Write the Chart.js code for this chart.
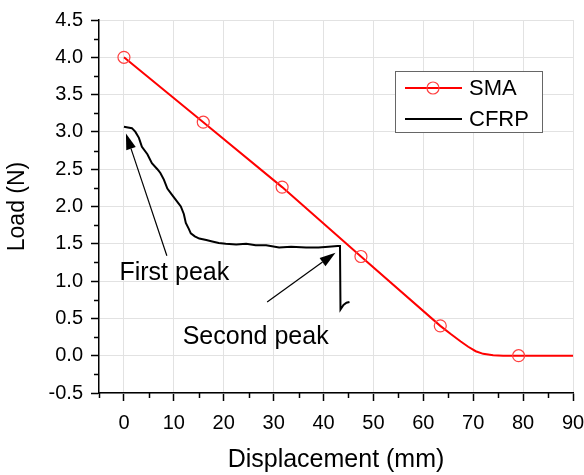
<!DOCTYPE html>
<html><head><meta charset="utf-8">
<script src="https://cdn.jsdelivr.net/npm/chart.js@4.4.1/dist/chart.umd.min.js"></script>
<style>html,body{margin:0;padding:0;background:#fff}#wrap{width:584px;height:475px}</style>
</head><body><div id="wrap"><canvas id="c" width="584" height="475"></canvas></div>
<script>
// ---- data ----
const smaX = [0, 15.9, 31.7, 47.5, 63.4, 65.5, 67.5, 69, 70.5, 72, 74, 76, 79.1, 90];
const smaY = [4.0, 3.13, 2.26, 1.33, 0.40, 0.29, 0.19, 0.12, 0.06, 0.025, 0.005, 0.0, 0.0, 0.0];
const smaMarkerX = [0, 15.9, 31.7, 47.5, 63.4, 79.1];

const cfrpX = [0, 0.8, 1.6, 2.3, 3.0, 3.6, 4.7, 5.6, 6.7, 7.3, 8.0, 8.7, 9.6, 10.4, 11.4, 12.0, 12.4, 13.0, 13.4, 14.2, 15.1, 16.5, 17.7, 19.0, 20.4, 22.5, 24.5, 26.4, 28.5, 31.1, 33.5, 36.5, 39.0, 41.0, 42.8, 43.3, 43.4, 44.0, 44.6, 45.2];
const cfrpY = [3.07, 3.06, 3.05, 3.00, 2.92, 2.80, 2.70, 2.58, 2.50, 2.45, 2.36, 2.24, 2.16, 2.09, 2.00, 1.90, 1.78, 1.70, 1.64, 1.60, 1.57, 1.55, 1.53, 1.51, 1.50, 1.49, 1.50, 1.48, 1.48, 1.45, 1.46, 1.45, 1.45, 1.46, 1.47, 1.47, 0.62, 0.68, 0.71, 0.72];

const xTicks = [0, 10, 20, 30, 40, 50, 60, 70, 80, 90];
const xMinorTicks = [-5, 5, 15, 25, 35, 45, 55, 65, 75, 85];
const yTicks = [-0.5, 0.0, 0.5, 1.0, 1.5, 2.0, 2.5, 3.0, 3.5, 4.0, 4.5];
const yMinorTicks = [-0.25, 0.25, 0.75, 1.25, 1.75, 2.25, 2.75, 3.25, 3.75, 4.25];

const seriesNames = ['SMA', 'CFRP'];
const xTitle = 'Displacement (mm)';
const yTitle = 'Load (N)';

// annotation texts and arrows, in data coordinates
const notes = [
  {text: 'First peak', tx: 10.1, ty: 1.11, fromX: 8.6, fromY: 1.34, toX: 0.4, toY: 2.98},
  {text: 'Second peak', tx: 26.4, ty: 0.25, fromX: 28.7, fromY: 0.72, toX: 42.4, toY: 1.38}
];

const FONT = '"Liberation Sans", Arial, sans-serif';

const minorTicksPlugin = {
  id: 'minorTicks',
  afterDraw(chart) {
    const ctx = chart.ctx, xs = chart.scales.x, ys = chart.scales.y, a = chart.chartArea;
    ctx.save();
    ctx.strokeStyle = '#000'; ctx.lineWidth = 1.5;
    ctx.beginPath();
    xMinorTicks.forEach(v => { const p = Math.round(xs.getPixelForValue(v)) + 0.5; ctx.moveTo(p, a.bottom); ctx.lineTo(p, a.bottom + 5); });
    yMinorTicks.forEach(v => { const p = Math.round(ys.getPixelForValue(v)) + 0.5; ctx.moveTo(a.left, p); ctx.lineTo(a.left - 5, p); });
    ctx.stroke();
    ctx.restore();
  }
};

const notesPlugin = {
  id: 'notes',
  afterDatasetsDraw(chart) {
    const ctx = chart.ctx, xs = chart.scales.x, ys = chart.scales.y;
    ctx.save();
    notes.forEach(n => {
      const x1 = xs.getPixelForValue(n.fromX), y1 = ys.getPixelForValue(n.fromY);
      const x2 = xs.getPixelForValue(n.toX), y2 = ys.getPixelForValue(n.toY);
      const ang = Math.atan2(y2 - y1, x2 - x1);
      const L = 16, W = 5;
      const bx = x2 - L * Math.cos(ang), by = y2 - L * Math.sin(ang);
      ctx.strokeStyle = '#000'; ctx.lineWidth = 1.2;
      ctx.beginPath(); ctx.moveTo(x1, y1); ctx.lineTo(bx, by); ctx.stroke();
      ctx.fillStyle = '#000';
      ctx.beginPath();
      ctx.moveTo(x2, y2);
      ctx.lineTo(bx + W * Math.sin(ang), by - W * Math.cos(ang));
      ctx.lineTo(bx - W * Math.sin(ang), by + W * Math.cos(ang));
      ctx.closePath(); ctx.fill();
      ctx.font = '25px ' + FONT;
      ctx.textAlign = 'center'; ctx.textBaseline = 'middle';
      ctx.fillText(n.text, xs.getPixelForValue(n.tx), ys.getPixelForValue(n.ty));
    });
    ctx.restore();
  }
};

const legendPlugin = {
  id: 'boxLegend',
  afterDraw(chart) {
    const ctx = chart.ctx;
    const bx = 395.5, by = 71.5, bw = 147, bh = 61;
    ctx.save();
    ctx.fillStyle = '#fff'; ctx.fillRect(bx, by, bw, bh);
    ctx.strokeStyle = '#666'; ctx.lineWidth = 1; ctx.strokeRect(bx, by, bw, bh);
    chart.data.datasets.forEach((ds, i) => {
      const yy = by + 16.5 + i * 31;
      ctx.strokeStyle = ds.borderColor; ctx.lineWidth = ds.borderWidth;
      ctx.beginPath(); ctx.moveTo(405, yy); ctx.lineTo(462, yy); ctx.stroke();
      if (i === 0) {
        ctx.strokeStyle = ds.pointBorderColor; ctx.lineWidth = ds.pointBorderWidth;
        ctx.beginPath(); ctx.arc(433, yy, 6, 0, Math.PI * 2); ctx.stroke();
      }
      ctx.fillStyle = '#000'; ctx.font = '22px ' + FONT;
      ctx.textAlign = 'left'; ctx.textBaseline = 'middle';
      ctx.fillText(ds.label, 469, yy + 1);
    });
    ctx.restore();
  }
};

new Chart(document.getElementById('c'), {
  type: 'line',
  data: {
    datasets: [
      {
        label: seriesNames[0],
        data: smaX.map((x, i) => ({x: x, y: smaY[i]})),
        borderColor: '#ff0000', borderWidth: 2, tension: 0,
        pointRadius: c => (c.raw && smaMarkerX.includes(c.raw.x)) ? 6 : 0,
        pointHoverRadius: 0,
        pointBorderColor: '#ff4040', pointBackgroundColor: 'rgba(0,0,0,0)', pointBorderWidth: 1.2
      },
      {
        label: seriesNames[1],
        data: cfrpX.map((x, i) => ({x: x, y: cfrpY[i]})),
        borderColor: '#000000', borderWidth: 2, tension: 0, pointRadius: 0
      }
    ]
  },
  options: {
    responsive: false, animation: false, devicePixelRatio: 1,
    layout: {padding: {left: 4, right: 11, top: 20, bottom: 0}},
    plugins: {legend: {display: false}, tooltip: {enabled: false}},
    scales: {
      x: {
        type: 'linear', min: -5, max: 90,
        afterBuildTicks: s => { s.ticks = xTicks.map(v => ({value: v})); },
        afterFit: s => { s.height = 82; s.paddingLeft = 0; s.paddingRight = 0; },
        border: {color: '#000', width: 1.5},
        grid: {color: '#e2e2e2', lineWidth: 1, tickColor: '#000', tickLength: 8, tickWidth: 1.5},
        ticks: {autoSkip: false, maxRotation: 0, padding: 10, color: '#000', font: {family: FONT, size: 20}, callback: v => String(v)},
        title: {display: true, text: xTitle, color: '#000', font: {family: FONT, size: 25}, padding: {top: 0, bottom: 0}}
      },
      y: {
        type: 'linear', min: -0.5, max: 4.5,
        afterBuildTicks: s => { s.ticks = yTicks.map(v => ({value: v})); },
        afterFit: s => { s.width = 95; s.paddingTop = 0; s.paddingBottom = 0; },
        border: {color: '#000', width: 1.5},
        grid: {color: '#e2e2e2', lineWidth: 1, tickColor: '#000', tickLength: 8, tickWidth: 1.5},
        ticks: {autoSkip: false, padding: 8, color: '#000', font: {family: FONT, size: 20}, callback: v => Number(v).toFixed(1)},
        title: {display: true, text: yTitle, color: '#000', font: {family: FONT, size: 23}, padding: {top: 0, bottom: 0}}
      }
    }
  },
  plugins: [minorTicksPlugin, notesPlugin, legendPlugin]
});
</script></body></html>
